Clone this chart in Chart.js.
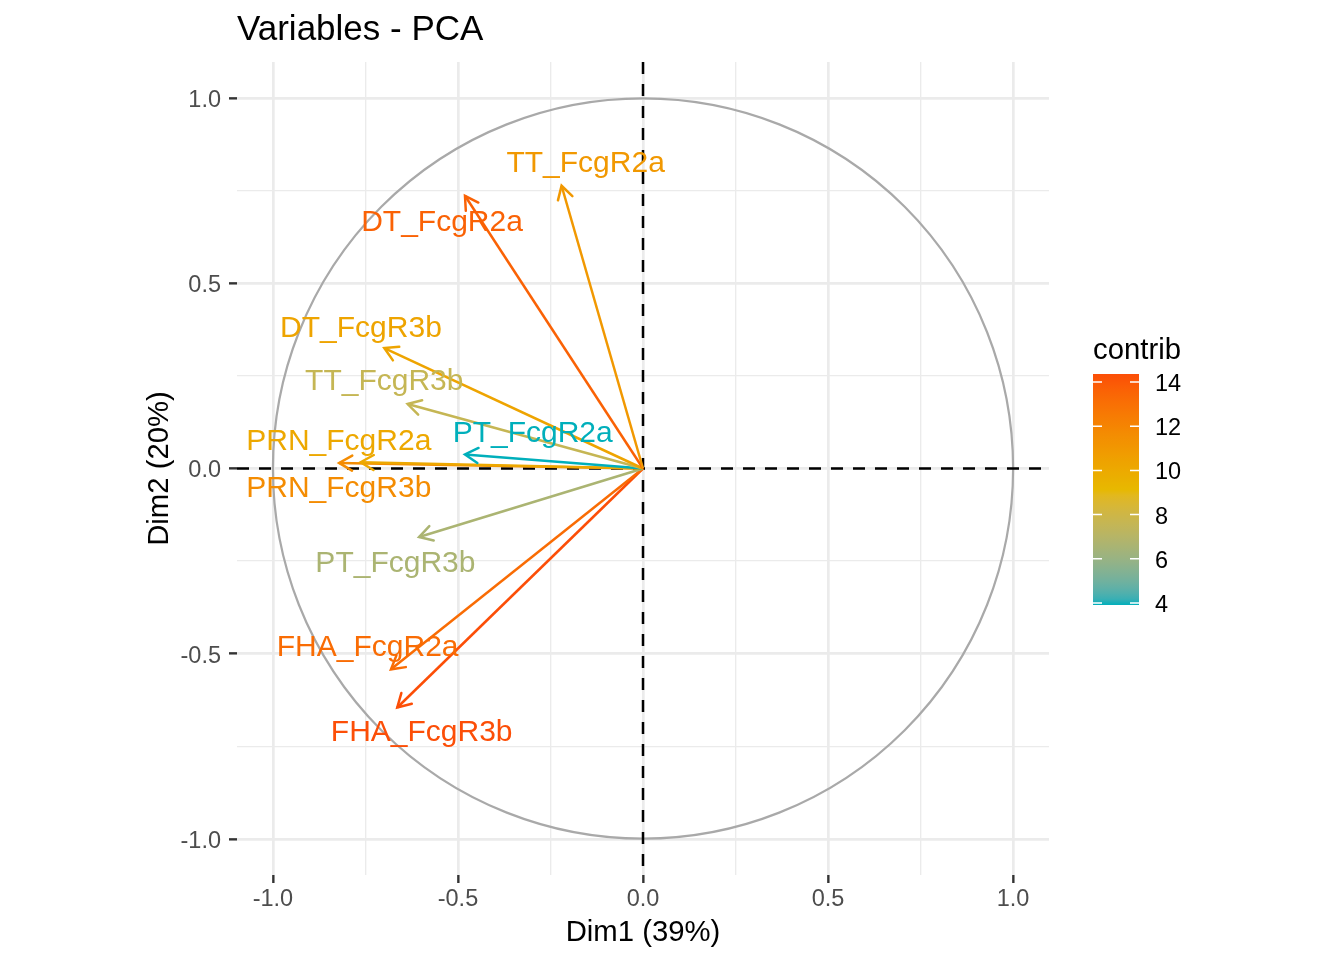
<!DOCTYPE html>
<html>
<head>
<meta charset="utf-8">
<script src="https://cdn.jsdelivr.net/npm/chart.js@4/dist/chart.umd.min.js"></script>
<style>
body{margin:0;background:#fff}
canvas{display:block}
</style>
</head>
<body>
<canvas id="grafico" width="1344" height="960"></canvas>
<script>

let variaveis = ["TT_FcgR2a","DT_FcgR2a","DT_FcgR3b","TT_FcgR3b","PT_FcgR2a","PRN_FcgR2a","PRN_FcgR3b","PT_FcgR3b","FHA_FcgR2a","FHA_FcgR3b"]
let dim1 = [-0.220,-0.481,-0.699,-0.636,-0.481,-0.763,-0.821,-0.605,-0.681,-0.664]
let dim2 = [0.763,0.736,0.325,0.174,0.038,0.017,0.015,-0.185,-0.542,-0.645]
let contrib = [11.0,13.6,10.3,7.6,3.91,10.1,11.6,6.6,13.2,14.36]

// label anchors (data units), as placed in the picture
let rotuloX = [-0.155,-0.543,-0.762,-0.699,-0.298,-0.822,-0.822,-0.669,-0.744,-0.598]
let rotuloY = [0.827,0.669,0.383,0.239,0.099,0.078,-0.049,-0.251,-0.479,-0.708]

let eixoTicks = [-1,-0.5,0,0.5,1]
let gradeTicks = [-1,-0.75,-0.5,-0.25,0,0.25,0.5,0.75,1]
let legendaTicks = [4,6,8,10,12,14]
let gradiente = ["#00AFBB","#E7B800","#FC4E07"]

let cMin = Math.min(...contrib)
let cMax = Math.max(...contrib)

Chart.defaults.font.family = "'Liberation Sans', Arial, sans-serif"

function hexRgb(h){
return [parseInt(h.slice(1,3),16),parseInt(h.slice(3,5),16),parseInt(h.slice(5,7),16)]
}

function rgbLab(c){
let [r,g,b] = c.map(v=>{v/=255;return v<=0.04045?v/12.92:Math.pow((v+0.055)/1.055,2.4)})
let x = (r*0.4124+g*0.3576+b*0.1805)/0.95047
let y = r*0.2126+g*0.7152+b*0.0722
let z = (r*0.0193+g*0.1192+b*0.9505)/1.08883
let f = t=>t>0.008856?Math.cbrt(t):7.787*t+16/116
return [116*f(y)-16,500*(f(x)-f(y)),200*(f(y)-f(z))]
}

function labRgb(l){
let fy = (l[0]+16)/116, fx = fy+l[1]/500, fz = fy-l[2]/200
let fi = t=>t*t*t>0.008856?t*t*t:(t-16/116)/7.787
let x = fi(fx)*0.95047, y = fi(fy), z = fi(fz)*1.08883
let r = x*3.2406-y*1.5372-z*0.4986
let g = -x*0.9689+y*1.8758+z*0.0415
let b = x*0.0557-y*0.2040+z*1.0570
return [r,g,b].map(v=>{v=v<=0.0031308?12.92*v:1.055*Math.pow(v,1/2.4)-0.055;return Math.round(Math.max(0,Math.min(1,v))*255)})
}

let labs = gradiente.map(h=>rgbLab(hexRgb(h)))

function cor(v){
let t = (v-cMin)/(cMax-cMin)
t = Math.max(0,Math.min(1,t))*(labs.length-1)
let i = Math.min(Math.floor(t),labs.length-2)
let f = t-i
let l = labs[i].map((a,k)=>a+(labs[i+1][k]-a)*f)
let c = labRgb(l)
return "rgb("+c[0]+","+c[1]+","+c[2]+")"
}

let ehMaior = c=>c.tick && eixoTicks.includes(c.tick.value)

let guias = {
id:"guias",
beforeDatasetsDraw(chart){
let ctx = chart.ctx, sx = chart.scales.x, sy = chart.scales.y, a = chart.chartArea
let cx = sx.getPixelForValue(0), cy = sy.getPixelForValue(0)
let r = sx.getPixelForValue(1)-cx
ctx.save()
ctx.strokeStyle = "#A9A9A9"
ctx.lineWidth = 2.2
ctx.beginPath()
ctx.arc(cx,cy,r,0,Math.PI*2)
ctx.stroke()
ctx.strokeStyle = "#000"
ctx.lineWidth = 2.5
ctx.setLineDash([12,10])
ctx.beginPath()
ctx.moveTo(a.left,cy); ctx.lineTo(a.right,cy)
ctx.moveTo(cx,a.top); ctx.lineTo(cx,a.bottom)
ctx.stroke()
ctx.restore()
}
}

let setas = {
id:"setas",
afterDatasetsDraw(chart){
let ctx = chart.ctx, sx = chart.scales.x, sy = chart.scales.y
ctx.save()
chart.data.datasets.forEach((ds,i)=>{
let pts = chart.getDatasetMeta(i).data
let p0 = pts[0], p1 = pts[1]
let ang = Math.atan2(p1.y-p0.y,p1.x-p0.x)
let L = 15, w = Math.PI/6
ctx.strokeStyle = ds.borderColor
ctx.lineWidth = 2.5
ctx.lineCap = "round"
ctx.beginPath()
ctx.moveTo(p1.x-L*Math.cos(ang-w),p1.y-L*Math.sin(ang-w))
ctx.lineTo(p1.x,p1.y)
ctx.lineTo(p1.x-L*Math.cos(ang+w),p1.y-L*Math.sin(ang+w))
ctx.stroke()
})
ctx.font = "30px 'Liberation Sans', Arial, sans-serif"
ctx.textAlign = "center"
ctx.textBaseline = "middle"
variaveis.forEach((nome,i)=>{
ctx.fillStyle = cor(contrib[i])
ctx.fillText(nome,sx.getPixelForValue(rotuloX[i]),sy.getPixelForValue(rotuloY[i])+2)
})
ctx.restore()
}
}

let barraCor = {
id:"barraCor",
afterDraw(chart){
let ctx = chart.ctx
let x0 = 1093, x1 = 1139, y0 = 374, y1 = 605
ctx.save()
let g = ctx.createLinearGradient(0,y1,0,y0)
for(let k=0;k<=40;k++){
g.addColorStop(k/40,cor(cMin+(cMax-cMin)*k/40))
}
ctx.fillStyle = g
ctx.fillRect(x0,y0,x1-x0,y1-y0)
ctx.strokeStyle = "#fff"
ctx.lineWidth = 1.5
ctx.fillStyle = "#000"
ctx.font = "23.5px 'Liberation Sans', Arial, sans-serif"
ctx.textAlign = "left"
ctx.textBaseline = "middle"
legendaTicks.forEach(v=>{
let y = y1-(v-cMin)/(cMax-cMin)*(y1-y0)
ctx.beginPath()
ctx.moveTo(x0,y); ctx.lineTo(x0+9,y)
ctx.moveTo(x1-9,y); ctx.lineTo(x1,y)
ctx.stroke()
ctx.fillText(String(v),1155,y+2.5)
})
ctx.font = "29.3px 'Liberation Sans', Arial, sans-serif"
ctx.fillText("contrib",1093,350.5)
ctx.restore()
}
}

let ctx = document.getElementById("grafico").getContext("2d")

let grafico = new Chart(ctx,{
type:"scatter",
data:{
datasets:variaveis.map((nome,i)=>({
label:nome,
data:[{x:0,y:0},{x:dim1[i],y:dim2[i]}],
showLine:true,
borderColor:cor(contrib[i]),
borderWidth:2.5,
pointRadius:0,
pointHoverRadius:0
}))
},
options:{
responsive:false,
devicePixelRatio:1,
animation:false,
events:[],
layout:{padding:{left:0,right:295,top:0,bottom:0}},
plugins:{
legend:{display:false},
tooltip:{enabled:false},
title:{
display:true,
text:"Variables - PCA",
align:"start",
fullSize:false,
color:"#000",
font:{size:35,weight:"normal"},
padding:{top:9,bottom:11}
}
},
scales:{
x:{
type:"linear",
min:-1.097,
max:1.097,
afterBuildTicks:s=>{s.ticks=gradeTicks.map(v=>({value:v}))},
afterFit:s=>{s.height=85},
ticks:{
autoSkip:false,
maxRotation:0,
padding:2,
color:"#4D4D4D",
font:{size:23.5},
callback:v=>eixoTicks.includes(v)?v.toFixed(1):""
},
grid:{
color:"#EBEBEB",
lineWidth:c=>ehMaior(c)?2.7:1.35,
tickLength:8,
tickWidth:2.4,
tickColor:c=>ehMaior(c)?"#333333":"rgba(0,0,0,0)"
},
border:{display:false},
title:{display:true,text:"Dim1 (39%)",color:"#000",font:{size:29.3},padding:{top:0,bottom:10}}
},
y:{
type:"linear",
min:-1.097,
max:1.097,
afterBuildTicks:s=>{s.ticks=gradeTicks.map(v=>({value:v}))},
afterFit:s=>{s.width=237},
ticks:{
autoSkip:false,
padding:8,
labelOffset:2.5,
color:"#4D4D4D",
font:{size:23.5},
callback:v=>eixoTicks.includes(v)?v.toFixed(1):""
},
grid:{
color:"#EBEBEB",
lineWidth:c=>ehMaior(c)?2.7:1.35,
tickLength:8,
tickWidth:2.4,
tickColor:c=>ehMaior(c)?"#333333":"rgba(0,0,0,0)"
},
border:{display:false},
title:{display:true,text:"Dim2 (20%)",color:"#000",font:{size:29.3},padding:{top:142,bottom:0}}
}
}
},
plugins:[guias,setas,barraCor]
})

</script>
</body>
</html>
